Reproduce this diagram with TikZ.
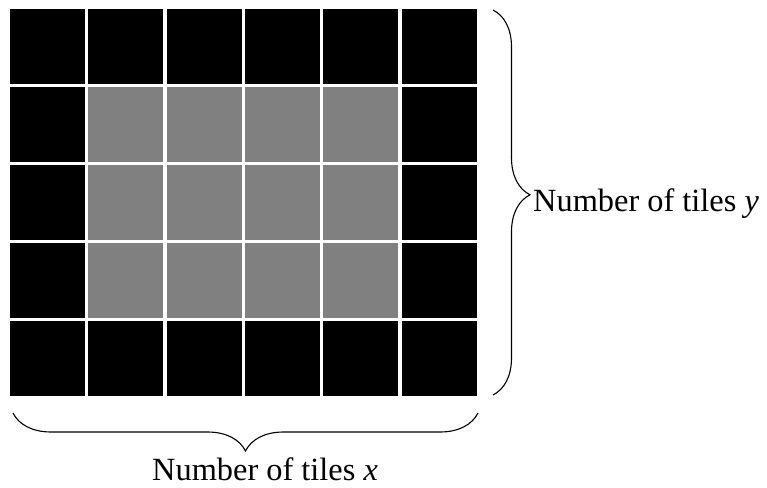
\documentclass[tikz,border=0pt]{standalone}
\usepackage{fontspec}
\setmainfont{Liberation Serif}
\usepackage{tikz}
\usetikzlibrary{decorations.pathreplacing}

\definecolor{tilegray}{RGB}{128,128,128}

\begin{document}
\begin{tikzpicture}[x=1bp, y=-1bp, font=\fontsize{32.5}{38}\selectfont]
	\useasboundingbox (0,0) rectangle (767,488);

	% Border tiles
	\foreach \i in {0,...,5} {
		\foreach \j in {0,...,4} {
			\fill[black] ({10+78.3*\i},{9+78*\j}) rectangle ++(75,75);
		}
	}

	% Inner tiles
	\foreach \i in {1,...,4} {
		\foreach \j in {1,...,3} {
			\fill[tilegray] ({10+78.3*\i},{9+78*\j}) rectangle ++(75,75);
		}
	}

	% Braces
	\coordinate (braceYtop) at (493,10);
	\coordinate (braceYbot) at (493,395);
	\coordinate (braceXright) at (478,413);
	\coordinate (braceXleft) at (13,413);
	\draw[decorate, decoration={brace, amplitude=37bp, aspect=0.48}, line width=1.1bp] (braceYtop) -- (braceYbot);
	\draw[decorate, decoration={brace, amplitude=38bp}, line width=1.1bp] (braceXright) -- (braceXleft);

	% Labels
	\node[anchor=base west, inner sep=0] (labelY) at (533,212) {Number of tiles \textit{y}};
	\node[anchor=base west, inner sep=0] (labelX) at (152,480) {Number of tiles \textit{x}};
\end{tikzpicture}
\end{document}
